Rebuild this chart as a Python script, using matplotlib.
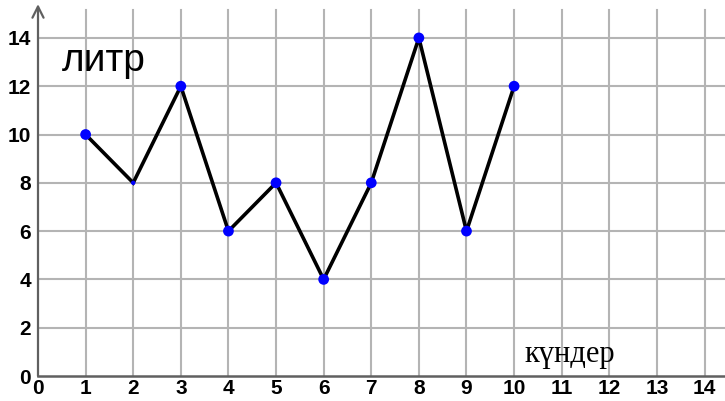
import numpy as np
import matplotlib.pyplot as plt

days = [1, 2, 3, 4, 5, 6, 7, 8, 9, 10]
litres = [10, 8, 12, 6, 8, 4, 8, 14, 6, 12]
xticks = list(range(0, 15))
yticks = list(range(0, 15, 2))

fig = plt.figure(figsize=(7.25, 4.01), dpi=100)
ax = fig.add_axes([38/725, 25/401, 687/725, 376/401])
ax.set_xlim(0, 14.43)
ax.set_ylim(0, 15.57)

gc = "#b4b4b4"
for x in xticks[1:]:
    ax.axvline(x, ymin=0, ymax=15.16/15.57, color=gc, lw=1.5, zorder=1)
for y in yticks[1:]:
    ax.axhline(y, color=gc, lw=1.5, zorder=1)

ax.plot(days, litres, color="black", lw=2.6, zorder=3, solid_joinstyle="miter")
sizes = [60 if i != 1 else 10 for i in range(len(days))]
ax.scatter(days, litres, s=sizes, color="blue", zorder=4, linewidths=0)

for s in ["top", "right"]:
    ax.spines[s].set_visible(False)
ax.spines["left"].set_visible(False)
ax.spines["bottom"].set_color("#606060")
ax.spines["bottom"].set_linewidth(1.8)
ax.annotate("", xy=(0, 15.4), xytext=(0, 0),
            arrowprops=dict(arrowstyle="->", color="#606060", lw=1.6,
                            mutation_scale=20, shrinkA=0, shrinkB=0),
            annotation_clip=False)

ax.set_xticks(xticks)
ax.set_yticks(yticks)
ax.tick_params(length=0)
for lab in ax.get_xticklabels() + ax.get_yticklabels():
    lab.set_fontfamily("Liberation Sans")
    lab.set_fontweight("bold")
    lab.set_fontsize(15)
ax.tick_params(axis="x", pad=2)
ax.tick_params(axis="y", pad=5)

ax.text(0.5, 13.05, "литр", fontsize=28, family="Liberation Sans",
        ha="left", va="center")
ax.text(11.18, 0.9, "күндер", fontsize=22, family="Liberation Serif",
        ha="center", va="center")

fig.savefig("out.png", dpi=100)
